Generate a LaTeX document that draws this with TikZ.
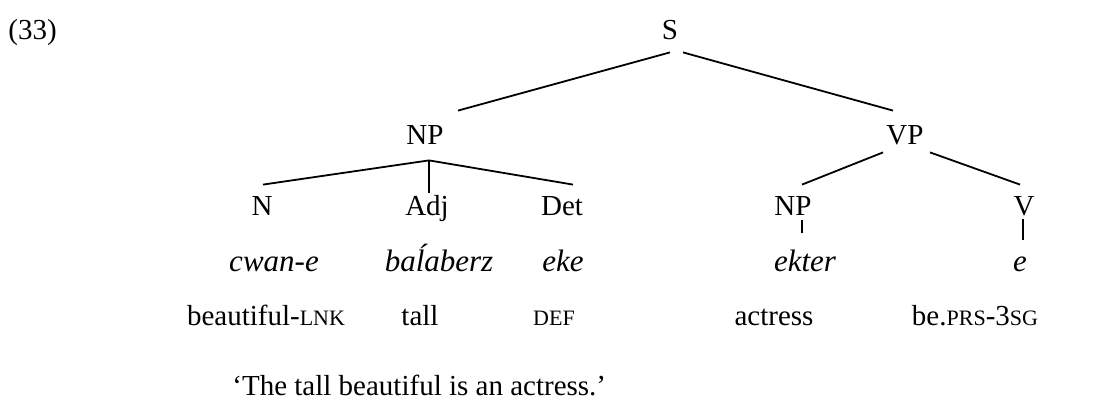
\documentclass[tikz,border=0pt]{standalone}
\usepackage{fontspec}
\setmainfont{Liberation Serif}
% gloss abbreviations in reduced capitals
\newcommand{\abbr}[1]{{\fontsize{11pt}{12pt}\selectfont #1}}
\begin{document}
\begin{tikzpicture}[x=0.5pt,y=-0.5pt,
  font=\fontsize{14.5pt}{17pt}\selectfont,
  lbl/.style={inner sep=0pt,anchor=base,text height=10pt,text depth=0pt},
  word/.style={lbl,font=\fontsize{15.5pt}{18pt}\selectfont\itshape},
  gloss/.style={inner sep=0pt,anchor=base},
  branch/.style={line width=0.9pt}]
\useasboundingbox (0,0) rectangle (1112,400);

% example number
\node[gloss,anchor=base west] (num) at (8,40) {(33)};

% category labels
\node[lbl] (S)   at (670,40)  {S};
\node[lbl] (NPl) at (425,145) {NP};
\node[lbl] (VP)  at (905,145) {VP};
\node[lbl] (N)   at (262,216) {N};
\node[lbl] (Adj) at (427,216) {Adj};
\node[lbl] (Det) at (562,216) {Det};
\node[lbl] (NPr) at (793,216) {NP};
\node[lbl] (V)   at (1024,216) {V};

% object-language words
\node[word] (w1) at (274,272) {cwan-e};
\node[word] (w2) at (439,272) {baĺaberz};
\node[word] (w3) at (563,272) {eke};
\node[word] (w4) at (805,272) {ekter};
\node[word] (w5) at (1020,272) {e};

% glosses
\node[gloss] (g1) at (266,326) {beautiful-\abbr{LNK}};
\node[gloss] (g2) at (420,326) {tall};
\node[gloss] (g3) at (554,326) {\abbr{DEF}};
\node[gloss] (g4) at (774,326) {actress};
\node[gloss] (g5) at (975,326) {be.\abbr{PRS}-3\abbr{SG}};

% free translation
\node[gloss,anchor=base west] (tr) at (232,395) {‘The tall beautiful is an actress.’};

% branches
\draw[branch] ([yshift=-6pt]S.south) -- ([xshift=16.5pt,yshift=7pt]NPl.north);
\draw[branch] ([xshift=6.5pt,yshift=-6pt]S.south) -- ([xshift=-6pt,yshift=7pt]VP.north);

\draw[branch] ([xshift=2pt,yshift=-7.5pt]NPl.south) -- ([xshift=0.5pt,yshift=5.5pt]N.north);
\draw[branch] ([xshift=2pt,yshift=-7.5pt]NPl.south) -- ([xshift=1pt,yshift=1.5pt]Adj.north);
\draw[branch] ([xshift=2pt,yshift=-7.5pt]NPl.south) -- ([xshift=5.5pt,yshift=5.5pt]Det.north);

\draw[branch] ([xshift=-11pt,yshift=-3.5pt]VP.south) -- ([xshift=4.5pt,yshift=5.5pt]NPr.north);
\draw[branch] ([xshift=12.5pt,yshift=-3.5pt]VP.south) -- ([xshift=-2pt,yshift=5.5pt]V.north);

\draw[branch] ([xshift=4.5pt,yshift=-2pt]NPr.south) -- ([xshift=-1.5pt,yshift=9.5pt]w4.north);
\draw[branch] ([xshift=-0.5pt,yshift=-1.5pt]V.south) -- ([xshift=1.5pt,yshift=6pt]w5.north);
\end{tikzpicture}
\end{document}
